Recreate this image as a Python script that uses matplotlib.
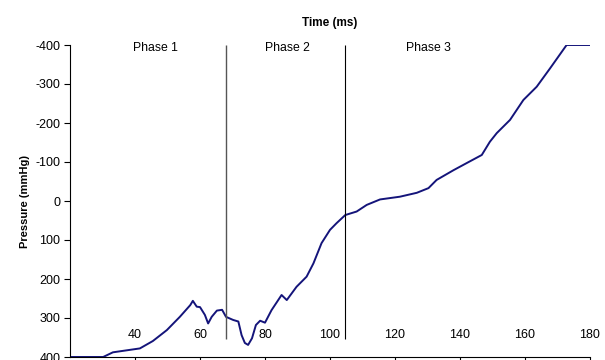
import matplotlib.pyplot as plt
import numpy as np

plt.rcParams['font.family'] = ['Liberation Sans', 'DejaVu Sans']

# --------------DATA--------------
time_ms = [20, 30.2, 33.2, 41.5, 45.5, 49.8, 53.8, 57, 57.8, 59, 60, 61.5, 62.5,
           63.6, 65.2, 66.8, 68, 70.2, 71.8, 72.8, 73.8, 74.8, 76, 77.2, 78.5,
           80, 82, 85.1, 86.7, 89.7, 92.8, 94.9, 97.4, 100, 102, 104.7, 108.2,
           111.3, 115.4, 121.5, 126.7, 130.3, 132.8, 138, 142, 146.7, 149.2,
           151.3, 155.4, 159.5, 163.6, 167.7, 172.8, 180]
pressure = [400, 400, 388, 378, 359, 331, 297, 267, 256, 271, 272, 292, 314,
            297, 281, 279, 297, 305, 309, 344, 364, 369, 352, 318, 307,
            312, 280, 241, 254, 220, 194, 160, 108, 74, 57, 36, 27,
            10, -4, -11, -21, -33, -54, -79, -97, -118, -152,
            -174, -208, -259, -293, -340, -400, -400]

phase_bounds = [68, 104.7]
phase_names = ['Phase 1', 'Phase 2', 'Phase 3']
phase_label_x = [46.4, 86.8, 130.3]

xticks = [40, 60, 80, 100, 120, 140, 160, 180]
yticks = [-400, -300, -200, -100, 0, 100, 200, 300, 400]

fig = plt.figure(figsize=(6.05, 3.6), dpi=100)
ax = fig.add_axes([70/605, 3/360, 520/605, 312/360])

ax.plot(time_ms, pressure, color='#14147a', lw=1.4)

ax.vlines(phase_bounds[0], -400, 355, color='#555555', lw=1.0)
ax.vlines(phase_bounds[1], -400, 355, color='black', lw=0.8)

for name, xp in zip(phase_names, phase_label_x):
    ax.text(xp, -392, name, ha='center', va='center', fontsize=8.8)

ax.set_xlim(20, 180)
ax.set_ylim(400, -400)
ax.set_xticks(xticks)
ax.set_yticks(yticks)
ax.set_yticklabels([str(v) for v in yticks])

for s in ['top', 'right']:
    ax.spines[s].set_visible(False)
for s in ['left', 'bottom']:
    ax.spines[s].set_linewidth(0.8)

ax.tick_params(axis='y', direction='out', length=4, width=0.8, labelsize=9, pad=3)
ax.tick_params(axis='x', direction='out', length=4, width=0.8, labelsize=9, pad=-24)

ax.set_title('Time (ms)', fontsize=8.5, fontweight='bold', pad=14)
ax.set_ylabel('Pressure (mmHg)', fontsize=8, fontweight='bold', labelpad=4)

fig.savefig('out.png', dpi=100)
